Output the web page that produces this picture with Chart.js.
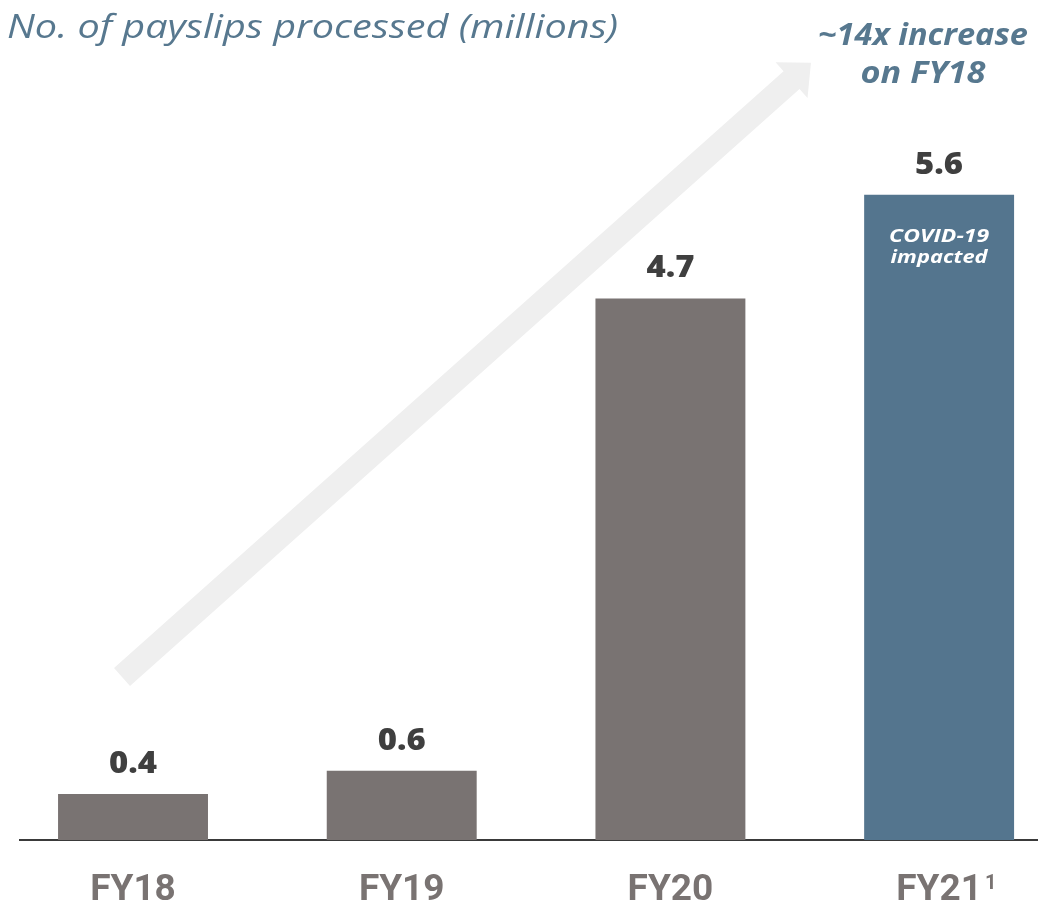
<!DOCTYPE html>
<html>
<head>
<meta charset="utf-8">
<script src="https://cdn.jsdelivr.net/npm/chart.js@4"></script>
<style>
  html, body { margin: 0; padding: 0; background: #ffffff; overflow: hidden; }
  #wrap { position: relative; width: 1038px; height: 904px; }
</style>
</head>
<body>
<div id="wrap"><canvas id="c" width="1038" height="904"></canvas></div>
<script>
// ---- data ----
const categories = ['FY18', 'FY19', 'FY20', 'FY21'];
const payslips = [0.4, 0.6, 4.7, 5.6];
const footnoteMarks = ['', '', '', '1'];
const barNotes = ['', '', '', 'COVID-19\nimpacted'];
const chartTitle = 'No. of payslips processed (millions)';
const growthNote = ['~14x increase', 'on FY18'];

// ---- styles ----
const GREY = '#797372';
const BLUE = '#54758e';
const TITLE_BLUE = '#57788f';
const LABEL_DARK = '#3f3f3f';
const ARROW_GREY = '#efefef';

// arrow annotation (data coordinates: x = category index, y = millions)
const arrowSpec = { from: { x: -0.041, y: 1.415 }, to: { x: 2.523, y: 6.745 }, shaftHalf: 12, headHalf: 24, headLen: 26 };
const growthNotePos = { x: 2.94, y: [6.901, 6.571] };

function drawFitText(ctx, text, x, y, font, color, align, targetWidth) {
  ctx.save();
  ctx.font = font;
  ctx.fillStyle = color;
  ctx.textBaseline = 'alphabetic';
  const w = ctx.measureText(text).width;
  const sx = targetWidth ? targetWidth / w : 1;
  const drawnW = w * sx;
  let left = x;
  if (align === 'center') left = x - drawnW / 2;
  else if (align === 'right') left = x - drawnW;
  ctx.translate(left, y);
  ctx.scale(sx, 1);
  ctx.textAlign = 'left';
  ctx.fillText(text, 0, 0);
  ctx.restore();
}

const decorPlugin = {
  id: 'decor',
  beforeDatasetsDraw(chart) {
    const { ctx, scales: { x, y } } = chart;
    const p0 = { x: x.getPixelForValue(arrowSpec.from.x), y: y.getPixelForValue(arrowSpec.from.y) };
    const p1 = { x: x.getPixelForValue(arrowSpec.to.x), y: y.getPixelForValue(arrowSpec.to.y) };
    const dx = p1.x - p0.x, dy = p1.y - p0.y;
    const len = Math.hypot(dx, dy);
    const ux = dx / len, uy = dy / len;
    const nx = -uy, ny = ux;
    const hb = { x: p1.x - ux * arrowSpec.headLen, y: p1.y - uy * arrowSpec.headLen };
    const s = arrowSpec.shaftHalf, h = arrowSpec.headHalf;
    ctx.save();
    ctx.fillStyle = ARROW_GREY;
    ctx.beginPath();
    ctx.moveTo(p0.x + nx * s, p0.y + ny * s);
    ctx.lineTo(hb.x + nx * s, hb.y + ny * s);
    ctx.lineTo(hb.x + nx * h, hb.y + ny * h);
    ctx.lineTo(p1.x, p1.y);
    ctx.lineTo(hb.x - nx * h, hb.y - ny * h);
    ctx.lineTo(hb.x - nx * s, hb.y - ny * s);
    ctx.lineTo(p0.x - nx * s, p0.y - ny * s);
    ctx.closePath();
    ctx.fill();
    ctx.restore();
  },
  afterDraw(chart) {
    const { ctx, scales: { x, y } } = chart;
    // title
    drawFitText(ctx, chartTitle, 7, 38, 'italic 400 33px "Open Sans"', TITLE_BLUE, 'left', 611);
    // growth note
    const gx = x.getPixelForValue(growthNotePos.x);
    drawFitText(ctx, growthNote[0], gx, y.getPixelForValue(growthNotePos.y[0]), 'italic 700 30px "Open Sans"', TITLE_BLUE, 'center', 210);
    drawFitText(ctx, growthNote[1], gx, y.getPixelForValue(growthNotePos.y[1]), 'italic 700 30px "Open Sans"', TITLE_BLUE, 'center', 125);
    // value labels, bar notes, footnote marks
    const meta = chart.getDatasetMeta(0);
    meta.data.forEach((bar, i) => {
      drawFitText(ctx, payslips[i].toFixed(1), bar.x, bar.y - 21, '800 30px "Open Sans"', LABEL_DARK, 'center', 48);
      if (barNotes[i]) {
        const widths = [100, 97];
        barNotes[i].split('\n').forEach((line, k) => {
          drawFitText(ctx, line, bar.x, bar.y + 47 + k * 21, 'italic 700 18px "Open Sans"', '#ffffff', 'center', widths[k]);
        });
      }
      if (footnoteMarks[i]) {
        ctx.save();
        ctx.font = '700 37px Roboto';
        const w = ctx.measureText(categories[i]).width;
        ctx.restore();
        drawFitText(ctx, footnoteMarks[i], bar.x + w / 2 + 3, 889, '700 20px Roboto', GREY, 'left');
      }
    });
  }
};

new Chart(document.getElementById('c'), {
  type: 'bar',
  data: {
    datasets: [{
      data: payslips.map((v, i) => ({ x: i, y: v })),
      backgroundColor: (c) => (c.dataIndex === 3 ? BLUE : GREY),
      borderWidth: 0,
      categoryPercentage: 1,
      barPercentage: 0.558
    }]
  },
  options: {
    responsive: false,
    animation: false,
    devicePixelRatio: 1,
    layout: { padding: { left: 20, right: 0, top: 0, bottom: 0 } },
    plugins: { legend: { display: false }, tooltip: { enabled: false }, title: { display: false } },
    scales: {
      x: {
        type: 'linear',
        offset: false,
        min: -0.4206,
        max: 3.368,
        afterFit: (scale) => { scale.height = 64; },
        afterBuildTicks: (scale) => { scale.ticks = categories.map((_, i) => ({ value: i })); },
        grid: { display: false, drawTicks: false, offset: false },
        border: { display: true, color: '#3a3a3a', width: 2 },
        ticks: {
          autoSkip: false,
          maxRotation: 0,
          padding: 29,
          color: GREY,
          font: { family: 'Roboto', size: 37, weight: 'bold' },
          callback: (v) => categories[v] ?? ''
        }
      },
      y: {
        display: false,
        min: 0,
        max: 7.29
      }
    }
  },
  plugins: [decorPlugin]
});
</script>
</body>
</html>
